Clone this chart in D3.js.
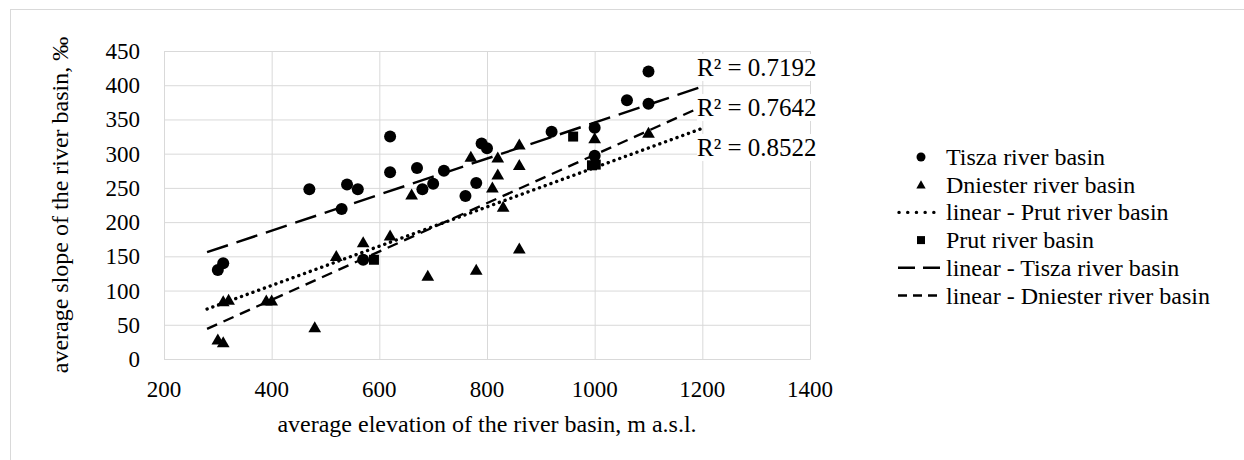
<!DOCTYPE html>
<html>
<head>
<meta charset="utf-8">
<script src="https://cdn.jsdelivr.net/npm/d3@7"></script>
<style>
	body { margin: 0; background: #fff; }
</style>
</head>
<body>
<div id="chart"></div>
<script>
//	数据：从图上读出来的
const tisza = [
	[300, 130], [310, 140], [470, 248], [530, 219], [540, 255], [560, 248],
	[570, 145], [620, 325], [620, 273], [670, 279], [680, 248], [700, 256],
	[720, 275], [760, 238], [780, 257], [790, 315], [800, 308], [920, 332],
	[1000, 338], [1000, 297], [1060, 378], [1100, 373], [1100, 420]
];
const dniester = [
	[300, 28], [310, 24], [310, 84], [320, 86], [390, 85], [400, 85],
	[480, 46], [520, 150], [570, 170], [620, 180], [660, 240], [690, 121],
	[770, 295], [780, 130], [810, 250], [820, 294], [820, 269], [830, 222],
	[860, 313], [860, 283], [860, 161], [1000, 322], [1100, 330]
];
const prut = [[590, 145], [960, 325], [995, 283], [1002, 284]];

//	趋势线两端
const trendTisza = [[280, 156], [1200, 398]];
const trendDniester = [[280, 44], [1200, 369]];
const trendPrut = [[280, 73], [1200, 337]];

const rLabels = ['R² = 0.7192', 'R² = 0.7642', 'R² = 0.8522'];
const xTicks = [200, 400, 600, 800, 1000, 1200, 1400];
const yTicks = [0, 50, 100, 150, 200, 250, 300, 350, 400, 450];

const legendItems = [
	{ label: 'Tisza river basin', kind: 'circle' },
	{ label: 'Dniester river basin', kind: 'triangle' },
	{ label: 'linear - Prut river basin', kind: 'dot' },
	{ label: 'Prut river basin', kind: 'square' },
	{ label: 'linear - Tisza river basin', kind: 'long' },
	{ label: 'linear - Dniester river basin', kind: 'short' }
];

const width = 1244, height = 460;
const plotL = 164, plotR = 810, plotT = 51, plotB = 359;
const serif = '"Liberation Serif", "Times New Roman", "DejaVu Serif", serif';

const svg = d3.select('#chart')
	.append('svg')
	.attr('width', width)
	.attr('height', height)
	.style('font-family', serif);

//	外框
svg.append('rect')
	.attr('x', 10.5).attr('y', 9.5)
	.attr('width', 1250).attr('height', 470)
	.attr('fill', 'none')
	.attr('stroke', '#d9d9d9');

const x = d3.scaleLinear().domain([200, 1400]).range([plotL, plotR]);
const y = d3.scaleLinear().domain([0, 450]).range([plotB, plotT]);

//	网格
const gx = svg.append('g')
	.attr('transform', 'translate(0,' + plotB + ')')
	.call(d3.axisBottom(x).tickValues(xTicks).tickSize(-(plotB - plotT)).tickFormat(''));
const gy = svg.append('g')
	.attr('transform', 'translate(' + plotL + ',0)')
	.call(d3.axisLeft(y).tickValues(yTicks).tickSize(-(plotR - plotL)).tickFormat(''));
[gx, gy].forEach(g => {
	g.select('.domain').attr('stroke', '#d9d9d9');
	g.selectAll('.tick line').attr('stroke', '#d9d9d9').attr('stroke-width', 1);
});

//	刻度文字
svg.append('g').selectAll('text')
	.data(xTicks)
	.enter()
	.append('text')
	.attr('x', d => x(d))
	.attr('y', 397)
	.attr('text-anchor', 'middle')
	.style('font-family', serif)
	.style('font-size', '23px')
	.text(d => d);
svg.append('g').selectAll('text')
	.data(yTicks)
	.enter()
	.append('text')
	.attr('x', 140)
	.attr('y', d => y(d) + 8)
	.attr('text-anchor', 'end')
	.style('font-family', serif)
	.style('font-size', '23px')
	.text(d => d);

//	轴标题
svg.append('text')
	.attr('x', (plotL + plotR) / 2)
	.attr('y', 432)
	.attr('text-anchor', 'middle')
	.style('font-family', serif)
	.style('font-size', '24px')
	.text('average elevation of the river basin, m a.s.l.');
svg.append('text')
	.attr('transform', 'translate(68,' + (plotT + plotB) / 2 + ') rotate(-90)')
	.attr('text-anchor', 'middle')
	.style('font-family', serif)
	.style('font-size', '24px')
	.text('average slope of the river basin, ‰');

//	趋势线
const line = d3.line().x(d => x(d[0])).y(d => y(d[1]));
const trends = [
	{ data: trendTisza, dash: '22,9', cap: 'butt' },
	{ data: trendDniester, dash: '11,7', cap: 'butt' },
	{ data: trendPrut, dash: '0.1,6', cap: 'round' }
];
svg.append('g').selectAll('path')
	.data(trends)
	.enter()
	.append('path')
	.attr('d', d => line(d.data))
	.attr('fill', 'none')
	.attr('stroke', '#000')
	.attr('stroke-width', d => d.cap === 'round' ? 3.4 : 2.4)
	.attr('stroke-linecap', d => d.cap)
	.attr('stroke-dasharray', d => d.dash);

//	点
const tri = d3.symbol().type(d3.symbolTriangle).size(70);
svg.append('g').selectAll('path')
	.data(dniester)
	.enter()
	.append('path')
	.attr('transform', d => 'translate(' + x(d[0]) + ',' + (y(d[1]) + 1) + ')')
	.attr('d', tri)
	.attr('fill', '#000');
svg.append('g').selectAll('rect')
	.data(prut)
	.enter()
	.append('rect')
	.attr('x', d => x(d[0]) - 5)
	.attr('y', d => y(d[1]) - 5)
	.attr('width', 10)
	.attr('height', 10)
	.attr('fill', '#000');
svg.append('g').selectAll('circle')
	.data(tisza)
	.enter()
	.append('circle')
	.attr('cx', d => x(d[0]))
	.attr('cy', d => y(d[1]))
	.attr('r', 6)
	.attr('fill', '#000');

//	R² 标签，带白底
const rg = svg.append('g').selectAll('g')
	.data(rLabels)
	.enter()
	.append('g')
	.attr('transform', (d, i) => 'translate(697,' + (67 + i * 40) + ')');
rg.append('rect')
	.attr('x', 0).attr('y', -13)
	.attr('width', 124).attr('height', 27)
	.attr('fill', '#fff');
rg.append('text')
	.attr('y', 9)
	.style('font-family', serif)
	.style('font-size', '25px')
	.text(d => d);

//	图例
const lg = svg.append('g').selectAll('g')
	.data(legendItems)
	.enter()
	.append('g')
	.attr('transform', (d, i) => 'translate(0,' + (157 + i * 27.7) + ')');
lg.each(function (d){
	const g = d3.select(this);
	if (d.kind === 'circle') {
		g.append('circle').attr('cx', 921).attr('cy', 0).attr('r', 4.5).attr('fill', '#000');
	} else if (d.kind === 'triangle') {
		g.append('path').attr('transform', 'translate(921,1)')
			.attr('d', d3.symbol().type(d3.symbolTriangle).size(38)).attr('fill', '#000');
	} else if (d.kind === 'square') {
		g.append('rect').attr('x', 917).attr('y', -4).attr('width', 8).attr('height', 8).attr('fill', '#000');
	} else {
		const dash = { dot: '0.1,8.6', long: '17,8', short: '9,6' }[d.kind];
		g.append('line')
			.attr('x1', d.kind === 'dot' ? 899 : 898).attr('x2', 941)
			.attr('y1', 0).attr('y2', 0)
			.attr('stroke', '#000')
			.attr('stroke-width', d.kind === 'dot' ? 3.4 : 2.4)
			.attr('stroke-linecap', d.kind === 'dot' ? 'round' : 'butt')
			.attr('stroke-dasharray', dash);
	}
	g.append('text')
		.attr('x', 946)
		.attr('y', 8)
		.style('font-family', serif)
		.style('font-size', '24px')
		.text(d.label);
});
</script>
</body>
</html>
